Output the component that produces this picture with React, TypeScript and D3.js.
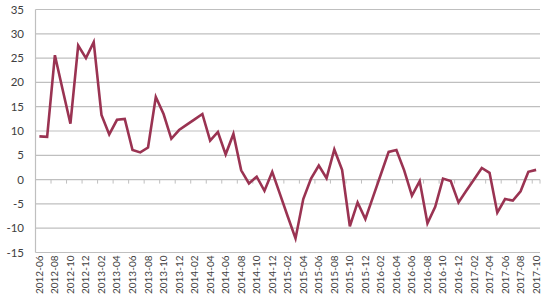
import React from "react";
import * as d3 from "d3";

const months: string[] = [
  "2012-06","2012-07","2012-08","2012-09","2012-10","2012-11","2012-12",
  "2013-01","2013-02","2013-03","2013-04","2013-05","2013-06","2013-07","2013-08","2013-09","2013-10","2013-11","2013-12",
  "2014-01","2014-02","2014-03","2014-04","2014-05","2014-06","2014-07","2014-08","2014-09","2014-10","2014-11","2014-12",
  "2015-01","2015-02","2015-03","2015-04","2015-05","2015-06","2015-07","2015-08","2015-09","2015-10","2015-11","2015-12",
  "2016-01","2016-02","2016-03","2016-04","2016-05","2016-06","2016-07","2016-08","2016-09","2016-10","2016-11","2016-12",
  "2017-01","2017-02","2017-03","2017-04","2017-05","2017-06","2017-07","2017-08","2017-09","2017-10",
];

const values: number[] = [
  8.9, 8.8, 25.6, 18.5, 11.5, 27.6, 25.0,
  28.3, 13.3, 9.3, 12.3, 12.5, 6.1, 5.6, 6.6, 17.0, 13.5, 8.4, 10.2,
  11.3, 12.4, 13.5, 8.0, 9.8, 5.2, 9.4, 1.9, -0.8, 0.6, -2.3, 1.6,
  -3.0, -7.6, -12.1, -4.0, 0.2, 2.9, 0.3, 6.2, 2.0, -9.6, -4.7, -8.1,
  -3.5, 1.1, 5.7, 6.1, 1.9, -3.3, -0.3, -9.0, -5.6, 0.2, -0.3, -4.7,
  -2.3, 0.0, 2.4, 1.4, -6.8, -4.0, -4.3, -2.4, 1.6, 2.0,
];

const yTicks: number[] = [-15, -10, -5, 0, 5, 10, 15, 20, 25, 30, 35];

export default function App() {
  const W = 550, H = 300;
  const left = 35.5, right = 540, top = 9.5, bottom = 252.5;

  const x = d3.scaleBand<string>().domain(months).range([left, right]).paddingInner(0).paddingOuter(0);
  const y = d3.scaleLinear().domain([-15, 35]).range([bottom, top]);
  const bw = x.bandwidth();

  const line = d3.line<number>()
    .x((_, i) => (x(months[i]) as number) + bw / 2)
    .y((d) => y(d));

  const font = "Lato, 'Open Sans', sans-serif";
  const textColor = "#404040";
  const gridColor = "#bfbfbf";

  const tickIdx = months.map((_, i) => i).filter((i) => i % 2 === 0 && i > 0);
  tickIdx.push(months.length);

  return (
    <svg width={W} height={H} style={{ position: "absolute", left: 0, top: 0, background: "#fff" }}>
      {yTicks.map((t) => (
        <g key={t}>
          <line x1={left} x2={right} y1={y(t)} y2={y(t)} stroke={gridColor} strokeWidth={1.2} />
          <text x={24} y={y(t)} dy="0.35em" textAnchor="end" fontFamily={font} fontSize={11.5} fill={textColor}>
            {t}
          </text>
        </g>
      ))}
      <line x1={left} x2={left} y1={top} y2={bottom} stroke={gridColor} strokeWidth={1.2} />
      {tickIdx.map((i) => {
        const tx = left + i * bw;
        return <line key={"tk" + i} x1={tx} x2={tx} y1={y(0)} y2={y(0) + 4} stroke={gridColor} strokeWidth={1} />;
      })}
      {months.map((m, i) =>
        i % 2 === 0 ? (
          <text
            key={m}
            transform={`translate(${(x(m) as number) + bw / 2},${bottom + 3}) rotate(-90)`}
            dy="0.35em"
            textAnchor="end"
            fontFamily={font}
            fontSize={10}
            fill={textColor}
          >
            {m}
          </text>
        ) : null
      )}
      <path d={line(values) || ""} fill="none" stroke="#9a3352" strokeWidth={2.6} strokeLinejoin="miter" />
    </svg>
  );
}
